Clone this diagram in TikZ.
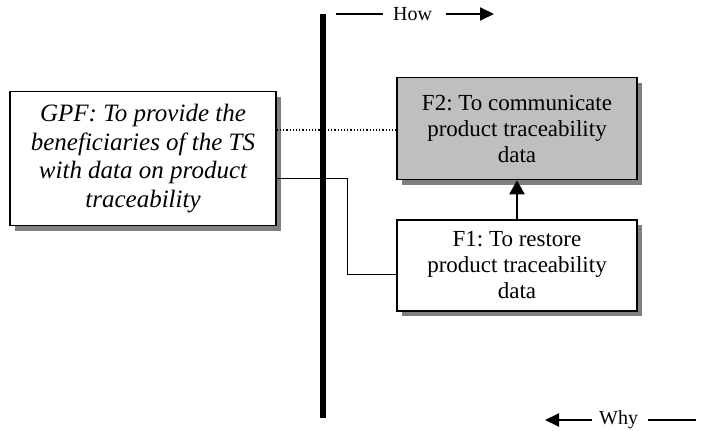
\documentclass[tikz,border=0pt]{standalone}
\usepackage{fontspec}
\setmainfont{Liberation Serif}
\frenchspacing
\usetikzlibrary{shadows,arrows.meta}
\begin{document}
\begin{tikzpicture}[x=1pt,y=-1pt,
  fbox/.style={draw=black,line width=1.6pt,fill=white,align=center,inner sep=0pt,
    font=\fontsize{23}{26}\selectfont,
    drop shadow={shadow xshift=5pt,shadow yshift=-5pt,fill=black!50,opacity=1}},
  conn/.style={line width=1pt},
  bigarrow/.style={line width=2pt,-{Triangle[length=14pt,width=15pt]}},
  lbl/.style={font=\fontsize{20}{22}\selectfont,inner sep=0pt},
  thin/.style={line width=1.6pt},
  tip/.style={line width=2pt,-{Triangle[length=14pt,width=13pt]}}]
\useasboundingbox (0,0) rectangle (702,431);
% vertical bar
\coordinate (bartop) at (323,14);
\coordinate (barbot) at (323,418);
\draw[line width=6pt] (bartop) -- (barbot);
% boxes
\node[fbox,minimum width=266pt,minimum height=134pt,font=\fontsize{25}{28.5}\selectfont\itshape] (gpf) at (143,158.5)
  {GPF: To provide the\\beneficiaries of the TS\\with data on product\\traceability};
\node[fbox,fill=black!25,minimum width=240pt,minimum height=102pt] (f2) at (517,128.5)
  {F2: To communicate\\product traceability\\data};
\node[fbox,minimum width=240pt,minimum height=91pt] (f1) at (517,265.5)
  {F1: To restore\\product traceability\\data};
% connectors
\coordinate (dy) at (0,130);
\draw[dotted,line width=1.2pt] (gpf.east |- dy) -- (f2.west |- dy);
\coordinate (sy1) at (0,178);
\coordinate (sx) at (347,0);
\coordinate (sy2) at (0,274);
\draw[conn] (gpf.east |- sy1) -- (sx |- sy1) -- (sx |- sy2) -- (f1.west |- sy2);
\draw[bigarrow] (f1.north) -- (f2.south);
% How
\node[lbl,anchor=west] (how) at (393,14) {How};
\coordinate (howL) at (336,14);
\coordinate (howR) at (494,14);
\draw[thin] (howL) -- ([xshift=-10pt]how.west);
\draw[tip] ([xshift=14pt]how.east) -- (howR);
% Why
\node[lbl,anchor=west] (why) at (599,420) {Why};
\coordinate (whyL) at (545,420);
\coordinate (whyR) at (696,420);
\draw[tip] ([xshift=-7pt]why.west) -- (whyL);
\draw[thin] ([xshift=10pt]why.east) -- (whyR);
\end{tikzpicture}
\end{document}
